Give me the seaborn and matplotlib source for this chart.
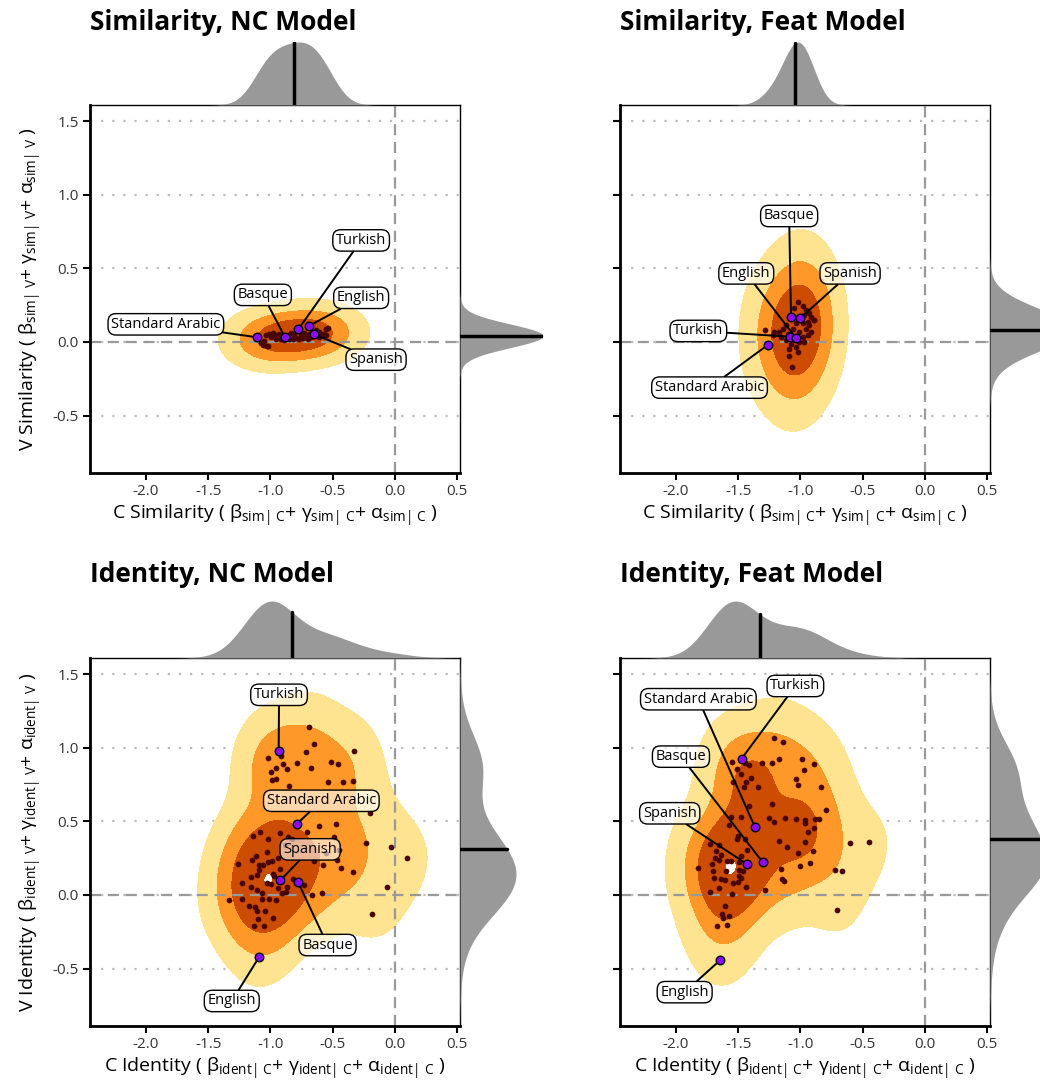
import numpy as np
import matplotlib
matplotlib.use("Agg")
import matplotlib.pyplot as plt
import seaborn as sns

# ---------------- data ----------------
# Similarity, NC model: language estimates (C, V)
sim_nc_x = [-1.075, -1.021, -1.054, -1.008, -0.981, -0.954, -0.927, -0.914, -0.954, -0.860,
            -0.833, -0.806, -0.847, -0.793, -0.753, -0.726, -0.707, -0.739, -0.766, -0.685,
            -0.672, -0.632, -0.605, -0.578, -0.556, -0.538, -0.556, -0.605, -0.699, -0.820,
            -0.887, -0.995, -1.035, -1.060, -1.030, -0.550, -0.565]
sim_nc_y = [-0.009, -0.030, 0.005, 0.053, 0.062, 0.046, 0.057, 0.023, 0.023, 0.050,
            0.064, 0.046, 0.023, 0.030, 0.050, 0.062, 0.046, 0.027, 0.023, 0.057,
            0.034, 0.080, 0.068, 0.057, 0.087, 0.096, 0.046, 0.034, 0.023, 0.018,
            0.011, 0.034, 0.046, -0.020, -0.027, 0.090, 0.048]

# Similarity, Feat model
sim_feat_x = [-1.021, -0.981, -1.048, -0.954, -0.927, -0.968, -0.914, -0.887, -0.941, -0.981,
              -1.035, -1.116, -1.142, -1.062, -0.954, -0.914, -1.008, -1.169, -1.210, -1.223,
              -1.156, -0.981, -0.941, -1.116, -1.008, -1.075, -1.035, -1.089, -1.021, -1.089,
              -1.067, -0.968, -0.927, -0.995, -1.102, -1.048, -1.282, -0.892]
sim_feat_y = [0.274, 0.247, 0.228, 0.216, 0.194, 0.183, 0.171, 0.148, 0.137, 0.126,
              0.126, 0.114, 0.091, 0.091, 0.091, 0.068, 0.068, 0.068, 0.068, 0.050,
              0.034, 0.034, 0.046, 0.011, 0.000, -0.011, -0.034, -0.046, -0.068, -0.096,
              -0.171, 0.000, 0.114, 0.171, 0.057, 0.034, 0.084, 0.148]

# Identity, NC model
ident_nc_x = [-0.691, -0.645, -0.712, -0.328, -1.016, -0.914, -0.901, -0.954, -0.868, -0.788,
              -0.672, -0.516, -0.457, -0.995, -0.954, -0.987, -0.852, -0.538, -0.417, -0.336,
              -0.202, -0.476, -0.605, -1.081, -0.922, -0.858, -0.825, -0.702, -0.492, -1.142,
              -1.022, -0.228, -0.027, 0.099, -1.027, -1.116, -1.263, -1.148, -1.094, -1.062,
              -1.022, -0.987, -0.941, -0.645, -0.551, -0.430, -0.336, -0.465, -0.578, -0.922,
              -0.981, -1.089, -1.110, -1.156, -1.228, -1.156, -1.030, -0.868, -0.874, -0.906,
              -0.941, -0.820, -0.726, -0.664, -0.583, -0.062, -1.110, -1.067, -1.008, -0.954,
              -1.065, -1.228, -1.336, -1.169, -1.126, -1.110, -1.040, -1.097, -0.981, -1.129,
              -1.048, -0.183, -0.995, -0.968, -0.927, -0.879, -0.449]
ident_nc_y = [1.142, 1.023, 0.970, 0.977, 0.932, 0.947, 0.890, 0.861, 0.856, 0.897,
              0.861, 0.902, 0.890, 0.833, 0.788, 0.781, 0.738, 0.765, 0.765, 0.776,
              0.555, 0.479, 0.468, 0.427, 0.422, 0.395, 0.381, 0.427, 0.395, 0.404,
              0.377, 0.354, 0.324, 0.249, 0.292, 0.263, 0.212, 0.240, 0.205, 0.205,
              0.221, 0.228, 0.251, 0.228, 0.285, 0.183, 0.153, 0.240, 0.205, 0.176,
              0.142, 0.171, 0.137, 0.121, 0.080, 0.057, 0.080, 0.053, 0.023, 0.011,
              0.046, 0.107, 0.068, 0.000, 0.016, 0.053, 0.034, 0.011, -0.027, -0.034,
              -0.030, -0.027, -0.037, -0.073, -0.080, -0.110, -0.110, -0.160, -0.153, -0.212,
              -0.212, -0.130, 0.075, 0.126, 0.107, 0.342, 0.308]

# Identity, Feat model
ident_feat_x = [-1.215, -1.143, -1.546, -1.444, -1.411, -1.309, -1.228, -1.169, -0.989, -0.887,
                -1.513, -1.478, -0.973, -1.538, -1.433, -1.393, -1.344, -1.449, -1.035, -1.016,
                -0.833, -1.411, -1.228, -1.478, -1.559, -1.573, -1.250, -1.215, -1.124, -1.035,
                -0.965, -0.962, -0.882, -0.847, -0.793, -0.935, -0.887, -1.723, -1.653, -1.503,
                -1.513, -1.441, -1.425, -1.640, -1.680, -1.683, -1.653, -1.586, -1.556, -1.497,
                -1.478, -1.169, -1.105, -0.965, -0.898, -1.019, -0.922, -1.000, -1.159, -1.148,
                -1.134, -1.712, -1.820, -1.702, -1.694, -1.640, -1.608, -1.538, -1.503, -1.478,
                -1.492, -1.438, -1.653, -1.726, -1.546, -1.288, -1.602, -1.632, -1.621, -1.573,
                -1.672, -1.586, -0.723, -0.667, -0.599, -0.449, -0.702, -1.594, -1.492, -1.465]
ident_feat_y = [1.068, 1.039, 0.906, 0.897, 0.884, 0.895, 0.897, 0.922, 0.922, 0.890,
                0.856, 0.820, 0.852, 0.769, 0.767, 0.795, 0.737, 0.731, 0.785, 0.747,
                0.735, 0.605, 0.616, 0.530, 0.530, 0.473, 0.525, 0.498, 0.521, 0.514,
                0.509, 0.486, 0.518, 0.518, 0.578, 0.429, 0.454, 0.345, 0.342, 0.400,
                0.377, 0.377, 0.308, 0.274, 0.297, 0.251, 0.240, 0.228, 0.231, 0.224,
                0.263, 0.368, 0.327, 0.361, 0.299, 0.283, 0.217, 0.199, 0.176, 0.107,
                0.096, 0.208, 0.180, 0.164, 0.114, 0.107, 0.105, 0.080, 0.091, 0.114,
                0.130, 0.053, 0.046, 0.023, 0.007, 0.034, -0.075, -0.126, -0.153, -0.144,
                -0.212, -0.203, 0.167, 0.164, 0.352, 0.361, -0.105, 0.164, 0.169, 0.160]

# highlighted languages
sim_nc_langs = ["Standard Arabic", "Basque", "Turkish", "English", "Spanish"]
sim_nc_lang_x = [-1.107, -0.885, -0.774, -0.688, -0.651]
sim_nc_lang_y = [0.032, 0.037, 0.087, 0.110, 0.053]

sim_feat_langs = ["Basque", "Spanish", "Turkish", "English", "Standard Arabic"]
sim_feat_lang_x = [-1.075, -1.000, -1.083, -1.035, -1.258]
sim_feat_lang_y = [0.167, 0.162, 0.036, 0.027, -0.018]

ident_nc_langs = ["Turkish", "Standard Arabic", "Spanish", "Basque", "English"]
ident_nc_lang_x = [-0.933, -0.785, -0.919, -0.777, -1.089]
ident_nc_lang_y = [0.975, 0.484, 0.100, 0.087, -0.420]

ident_feat_langs = ["Turkish", "Standard Arabic", "Basque", "Spanish", "English"]
ident_feat_lang_x = [-1.473, -1.366, -1.301, -1.430, -1.645]
ident_feat_lang_y = [0.925, 0.463, 0.221, 0.210, -0.443]

# label box placement (data coords)
sim_nc_lab_pos = [(-1.84, 0.12), (-1.06, 0.32), (-0.27, 0.69), (-0.27, 0.30), (-0.15, -0.12)]
sim_feat_lab_pos = [(-1.09, 0.856), (-0.60, 0.466), (-1.82, 0.075), (-1.435, 0.466), (-1.73, -0.31)]
ident_nc_lab_pos = [(-0.93, 1.36), (-0.59, 0.64), (-0.68, 0.31), (-0.54, -0.34), (-1.31, -0.72)]
ident_feat_lab_pos = [(-1.04, 1.42), (-1.82, 1.33), (-1.96, 0.94), (-2.05, 0.555), (-1.93, -0.66)]

titles = ["Similarity, NC Model", "Similarity, Feat Model", "Identity, NC Model", "Identity, Feat Model"]
x_ticks = [-2.0, -1.5, -1.0, -0.5, 0.0, 0.5]
y_ticks = [-0.5, 0.0, 0.5, 1.0, 1.5]

# ---------------- style ----------------
sns.set_theme(style="white")
FONT = "Open Sans"
plt.rcParams["font.family"] = [FONT, "DejaVu Sans"]
plt.rcParams["mathtext.fontset"] = "custom"
plt.rcParams["mathtext.rm"] = FONT
plt.rcParams["mathtext.it"] = FONT
plt.rcParams["mathtext.bf"] = FONT + ":bold"
plt.rcParams["text.color"] = "black"
plt.rcParams["axes.labelcolor"] = "black"

KDE_COLS = ["#fee391", "#fe9929", "#cc4c02"]
PT_COL = "#4a0404"
LANG_COL = "#8a0cf5"
MARG_COL = "#999999"

W, H = 1040, 1090
fig = plt.figure(figsize=(W / 100, H / 100), dpi=100)


def frac(l, t, w, h):
    return [l / W, 1 - (t + h) / H, w / W, h / H]


def xlab(word, tag):
    return (r"C %s ( $\beta_{%s|\ C}$+ $\gamma_{%s|\ C}$+ $\alpha_{%s|\ C}$ )" % (word, tag, tag, tag))


def ylab(word, tag):
    return (r"V %s ( $\beta_{%s|\ V}$+ $\gamma_{%s|\ V}$+ $\alpha_{%s|\ V}$ )" % (word, tag, tag, tag))


def kde_grid(xs, ys, bwx, bwy, n=320):
    # 2d gaussian kde with separate bandwidths per axis
    gx = np.linspace(-2.6, 0.7, n)
    gy = np.linspace(-1.1, 1.8, n)
    xx, yy = np.meshgrid(gx, gy)
    dens = np.zeros_like(xx)
    for a, b in zip(xs, ys):
        dens += np.exp(-0.5 * (((xx - a) / bwx) ** 2 + ((yy - b) / bwy) ** 2))
    return xx, yy, dens


def mass_levels(dens, probs):
    # seaborn-style iso-proportion levels: share p of the mass lies below each contour
    flat = np.sort(dens.ravel())[::-1]
    cum = np.cumsum(flat)
    cum /= cum[-1]
    return [flat[min(np.searchsorted(cum, 1 - p), len(flat) - 1)] for p in probs]


panels = [
    dict(x=sim_nc_x, y=sim_nc_y, langs=sim_nc_langs, lx=sim_nc_lang_x, ly=sim_nc_lang_y,
         lab=sim_nc_lab_pos, pos=(90, 105), bw=(0.17, 0.092), mbw=(1.5, 5.0),
         probs=[0.03, 0.2, 0.5], mtop=63, mright=83,
         xl=xlab("Similarity", "sim"), yl=ylab("Similarity", "sim")),
    dict(x=sim_feat_x, y=sim_feat_y, langs=sim_feat_langs, lx=sim_feat_lang_x, ly=sim_feat_lang_y,
         lab=sim_feat_lab_pos, pos=(620, 105), bw=(0.135, 0.24), mbw=(2.0, 2.4),
         probs=[0.03, 0.2, 0.5], mtop=63, mright=83,
         xl=xlab("Similarity", "sim"), yl=None),
    dict(x=ident_nc_x, y=ident_nc_y, langs=ident_nc_langs, lx=ident_nc_lang_x, ly=ident_nc_lang_y,
         lab=ident_nc_lab_pos, pos=(90, 658), bw=(0.17, 0.19), mbw=(1.3, 1.3),
         probs=[0.03, 0.2, 0.6, 0.992], mtop=57, mright=56,
         xl=xlab("Identity", "ident"), yl=ylab("Identity", "ident")),
    dict(x=ident_feat_x, y=ident_feat_y, langs=ident_feat_langs, lx=ident_feat_lang_x, ly=ident_feat_lang_y,
         lab=ident_feat_lab_pos, pos=(620, 658), bw=(0.17, 0.19), mbw=(1.3, 1.3),
         probs=[0.03, 0.2, 0.5, 0.99], mtop=57, mright=56,
         xl=xlab("Identity", "ident"), yl=None),
]

XLIM = (-2.45, 0.525)
YLIM = (-0.89, 1.61)
AW, AH = 370, 368

for i, p in enumerate(panels):
    l, t = p["pos"]
    ax = fig.add_axes(frac(l, t, AW, AH))
    ax_top = fig.add_axes(frac(l, t - p["mtop"], AW, p["mtop"]))
    ax_right = fig.add_axes(frac(l + AW, t, p["mright"], AH))

    all_x = np.array(p["x"] + p["lx"])
    all_y = np.array(p["y"] + p["ly"])

    # density contours: 97% / 80% / 50% regions
    xx, yy, dens = kde_grid(all_x, all_y, *p["bw"])
    lev = mass_levels(dens, p["probs"])
    if len(lev) < 4:
        lev.append(dens.max() * 1.01)
    ax.contourf(xx, yy, dens, levels=lev, colors=KDE_COLS, zorder=1)

    # reference lines
    ax.axvline(0, color="#999999", lw=1.6, ls=(0, (5, 3)), zorder=1.5)
    ax.axhline(0, color="#999999", lw=1.6, ls=(0, (5, 3)), zorder=1.5)
    for yt in y_ticks:
        ax.axhline(yt, color="#bbbbbb", lw=1.6, ls=(0, (1, 4)), zorder=0.5)

    sns.scatterplot(x=p["x"], y=p["y"], ax=ax, color=PT_COL, s=17, linewidth=0, zorder=2)

    for name, px, py, (bx, by) in zip(p["langs"], p["lx"], p["ly"], p["lab"]):
        ax.annotate(name, xy=(px, py), xytext=(bx, by), ha="center", va="center",
                    fontsize=10.5, color="black", zorder=4,
                    bbox=dict(boxstyle="round,pad=0.22,rounding_size=0.55", fc=(1, 1, 1, 0.6),
                              ec="black", lw=1),
                    arrowprops=dict(arrowstyle="-", color="black", lw=1.4, shrinkA=0, shrinkB=0))

    sns.scatterplot(x=p["lx"], y=p["ly"], ax=ax, color=LANG_COL, s=38, edgecolor="black",
                    linewidth=1, zorder=5)

    ax.set_xlim(XLIM)
    ax.set_ylim(YLIM)
    ax.set_xticks(x_ticks)
    ax.set_xticklabels(["%.1f" % v for v in x_ticks])
    ax.set_yticks(y_ticks)
    if p["yl"] is not None:
        ax.set_yticklabels(["%.1f" % v for v in y_ticks])
        ax.set_ylabel(p["yl"], fontsize=14, labelpad=6)
    else:
        ax.set_yticklabels([])
        ax.set_ylabel("")
    ax.set_xlabel(p["xl"], fontsize=14, labelpad=3)
    ax.tick_params(axis="both", direction="out", length=5, width=1.5, color="black",
                   labelsize=11, labelcolor="#333333", bottom=True, left=True, pad=3)
    for side in ["left", "bottom"]:
        ax.spines[side].set_linewidth(2.0)
        ax.spines[side].set_color("black")
    for side in ["top", "right"]:
        ax.spines[side].set_linewidth(1.0)
        ax.spines[side].set_color("black")
    ax.grid(False)

    # top marginal
    sns.kdeplot(x=all_x, ax=ax_top, color=MARG_COL, linewidth=0, bw_adjust=p["mbw"][0], cut=5)
    gx, gd = ax_top.lines[0].get_data()
    ax_top.fill_between(gx, gd, color=MARG_COL, lw=0)
    mx = all_x.mean()
    ax_top.plot([mx, mx], [0, np.interp(mx, gx, gd)], color="black", lw=2.5)
    ax_top.set_xlim(XLIM)
    ax_top.set_ylim(0, gd.max())
    ax_top.axis("off")

    # right marginal
    sns.kdeplot(y=all_y, ax=ax_right, color=MARG_COL, linewidth=0, bw_adjust=p["mbw"][1], cut=5)
    rd, ry = ax_right.lines[0].get_data()
    ax_right.fill_betweenx(ry, rd, color=MARG_COL, lw=0)
    my = all_y.mean()
    ax_right.plot([0, np.interp(my, ry, rd)], [my, my], color="black", lw=2.5)
    ax_right.set_ylim(YLIM)
    ax_right.set_xlim(0, rd.max())
    ax_right.axis("off")

    fig.text(l / W, 1 - (t - 83) / H, titles[i], fontsize=19, fontweight="bold",
             color="black", ha="left", va="center")

fig.savefig("out.png", dpi=100)
